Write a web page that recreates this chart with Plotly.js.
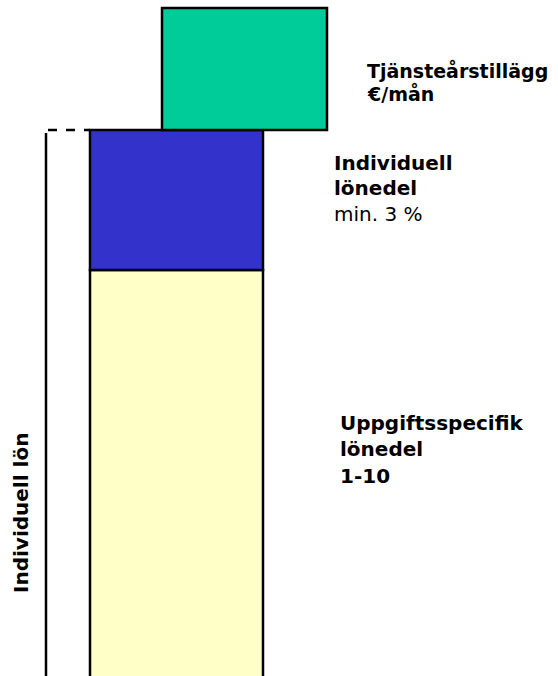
<!DOCTYPE html>
<html>
<head>
<meta charset="utf-8">
<script src="https://cdn.plot.ly/plotly-3.0.1.min.js"></script>
<style>html,body{margin:0;padding:0;background:#fff;}#chart{width:558px;height:676px;}</style>
</head>
<body>
<div id="chart"></div>
<script>
// Salary components (stacked blocks), in diagram units (0 = bottom of page)
const components = ["Uppgiftsspecifik lönedel", "Individuell lönedel", "Tjänsteårstillägg"];
const blockBottom = [-6, 406, 546];
const blockTop = [406, 546, 668];
const blockLeft = [90, 90, 162];
const blockRight = [263, 263, 327];
const blockColors = ["#FFFFC8", "#3333CC", "#00CC99"];

// "Individuell lön" bracket column
const bracketX = [46, 46];
const bracketY = [-6, 543];
const bracketTopX = [48, 90];
const bracketTopY = [546, 546];

// Label lines: text, bold?, left x, centre y (from top), size
const labelText = ["Tjänsteårstillägg", "€/mån", "Individuell", "lönedel", "min. 3 %", "Uppgiftsspecifik", "lönedel", "1-10"];
const labelBold = [true, true, true, true, false, true, true, true];
const labelX = [365, 365, 332, 332, 332, 338, 338, 338];
const labelY = [70, 93, 163, 188, 214, 423, 449, 476];
const labelSize = [19, 19, 20, 20, 20, 20, 20, 20];

const traces = components.map((name, i) => ({
  type: "bar",
  name: name,
  x: [(blockLeft[i] + blockRight[i]) / 2],
  y: [blockTop[i] - blockBottom[i]],
  base: [blockBottom[i]],
  width: [blockRight[i] - blockLeft[i]],
  marker: {color: blockColors[i], line: {color: "#000", width: 2.5}},
  hoverinfo: "skip",
  showlegend: false
}));

traces.push({
  type: "scatter", mode: "lines", x: bracketX, y: bracketY,
  line: {color: "#000", width: 2.5}, hoverinfo: "skip", showlegend: false
});
traces.push({
  type: "scatter", mode: "lines", x: bracketTopX, y: bracketTopY,
  line: {color: "#000", width: 2.5, dash: "dash"}, hoverinfo: "skip", showlegend: false
});

const fam = "DejaVu Sans, Liberation Sans, Arial, sans-serif";
const annotations = labelText.map((t, i) => ({
  x: labelX[i], y: 676 - labelY[i], xref: "x", yref: "y",
  xanchor: "left", yanchor: "middle", align: "left", showarrow: false,
  font: {family: fam, size: labelSize[i], color: "#000"},
  text: labelBold[i] ? "<b>" + t + "</b>" : t
}));
annotations.push({
  x: 21, y: 676 - 513, xref: "x", yref: "y", xanchor: "center", yanchor: "middle",
  textangle: -90, showarrow: false,
  font: {family: fam, size: 20, color: "#000"}, text: "<b>Individuell lön</b>"
});

const layout = {
  width: 558, height: 676,
  margin: {l: 0, r: 0, t: 0, b: 0},
  paper_bgcolor: "#fff", plot_bgcolor: "#fff",
  barmode: "overlay",
  xaxis: {range: [0, 558], visible: false, fixedrange: true},
  yaxis: {range: [0, 676], visible: false, fixedrange: true},
  annotations: annotations
};

Plotly.newPlot("chart", traces, layout, {displayModeBar: false, staticPlot: true});
</script>
</body>
</html>
